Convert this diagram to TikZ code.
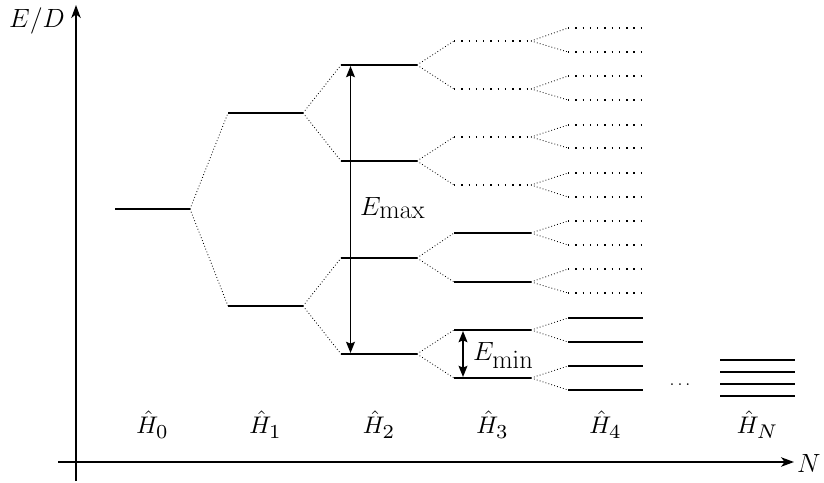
\RequirePackage{fix-cm}
\documentclass[tikz,border=0pt]{standalone}
\usepackage{graphicx}
\usetikzlibrary{arrows.meta}

% one row of energy levels: column, left x, right x, list of y, number of unresolved (dotted) levels
\newcommand{\drawlevels}[5]{%
  \foreach \y [count=\i] in {#4} {
    \coordinate (c#1-\i-l) at (#2,\y);
    \coordinate (c#1-\i-r) at (#3,\y);
    \ifnum\i>#5\relax
      \draw[level] (c#1-\i-l) -- (c#1-\i-r);
    \else
      \draw[ghost] (c#1-\i-l) -- (c#1-\i-r);
    \fi
  }}
% dotted splitting lines: every level of the parent column feeds two children
\newcommand{\drawsplits}[3]{%
  \foreach \i in {1,...,#3} {
    \pgfmathtruncatemacro\p{(\i+1)/2}
    \draw[split] (c#1-\p-r) -- (c#2-\i-l);
  }}
% Hamiltonian label with a fairly large subscript
\newcommand{\Hlab}[1]{\scalebox{2.05}{$\hat{H}_{\mbox{\scalebox{1.18}{$\scriptstyle #1$}}}$}}
\newcommand{\Elab}[1]{\fontsize{22.5}{27}\selectfont$E_{\textstyle\mathrm{#1}}$}

\begin{document}
\begin{tikzpicture}[x=0.03cm, y=-0.03cm,
  level/.style={line width=1.7pt},
  ghost/.style={line width=1.2pt, dash pattern=on 1.2pt off 5pt},
  split/.style={line width=0.7pt, dash pattern=on 0.7pt off 1.9pt},
  axis/.style={line width=1.6pt, -{Stealth[length=11pt, width=8pt, inset=3pt]}},
  gap/.style={line width=1.4pt, {Stealth[length=9.5pt, width=7.5pt, inset=1.5pt]}-{Stealth[length=9.5pt, width=7.5pt, inset=1.5pt]}},
  lab/.style={inner sep=0pt, font=\fontsize{22.5}{27}\selectfont},
  hlab/.style={inner sep=0pt, anchor=base}]
\useasboundingbox (0,0) rectangle (824,482);

% axes
\coordinate (ybot) at (76,481);
\coordinate (ytop) at (76,5);
\coordinate (xleft) at (58,462);
\coordinate (xright) at (794,462);
\draw[axis] (ybot) -- (ytop);
\draw[axis] (xleft) -- (xright);
\node[lab, anchor=base] (ylab) at (37,28) {$E/D$};
\node[lab, anchor=base west] (xlab) at (797,472) {$N$};

% energy levels
\drawlevels{0}{115}{190}{209}{0}
\drawlevels{1}{228}{303}{113,306}{0}
\drawlevels{2}{341}{417}{65,161,258,354}{0}
\drawlevels{3}{454}{531}{41,89,137,185,233,282,330,378}{4}
\drawlevels{4}{568}{643}{28,52,76,100,125,148,173,197,221,245,269,293,318,342,366,390}{12}

\drawsplits{0}{1}{2}
\drawsplits{1}{2}{4}
\drawsplits{2}{3}{8}
\drawsplits{3}{4}{16}

% large-N spectrum
\foreach \y [count=\i] in {360,372,384,396} {
  \coordinate (cN-\i-l) at (720,\y);
  \coordinate (cN-\i-r) at (795,\y);
  \draw[level] (cN-\i-l) -- (cN-\i-r);
}
\node[inner sep=0pt, anchor=base] (dots) at (680,385.5) {\fontsize{15.5}{18}\selectfont$\ldots$};

% gap markers
\coordinate (emaxT) at (350.5,66);
\coordinate (emaxB) at (350.5,353);
\draw[gap] (emaxT) -- (emaxB);
\node[lab, anchor=base west] (emax) at (360,215) {\Elab{max}};

\coordinate (eminT) at (463,331);
\coordinate (eminB) at (463,377);
\draw[gap] (eminT) -- (eminB);
\node[lab, anchor=base west] (emin) at (473,360) {\Elab{min}};

% Hamiltonian labels
\node[hlab] (h0) at (152.5,433.5) {\Hlab{0}};
\node[hlab] (h1) at (265.5,433.5) {\Hlab{1}};
\node[hlab] (h2) at (379,433.5) {\Hlab{2}};
\node[hlab] (h3) at (492.5,433.5) {\Hlab{3}};
\node[hlab] (h4) at (605.5,433.5) {\Hlab{4}};
\node[hlab] (hN) at (757.5,433.5) {\Hlab{N}};
\end{tikzpicture}
\end{document}
